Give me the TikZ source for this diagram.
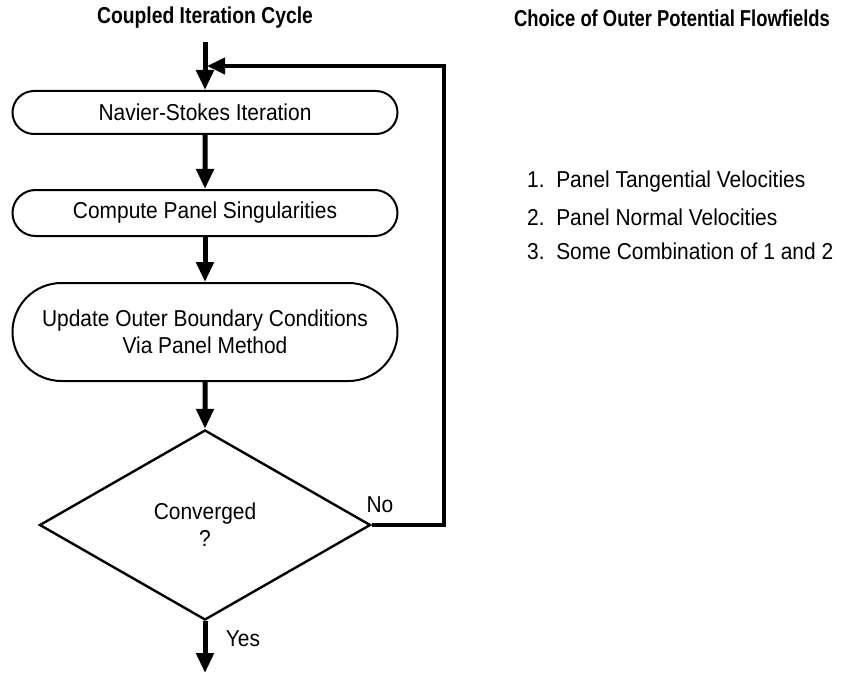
\documentclass[tikz,border=0pt]{standalone}
\usepackage{fontspec}
\setmainfont{Liberation Sans}[FakeStretch=0.91]
\newfontfamily\titlefont[FakeStretch=0.84]{Liberation Sans Bold}
\newfontfamily\titlefontb[FakeStretch=0.80]{Liberation Sans Bold}
\usetikzlibrary{shapes.misc,shapes.geometric,arrows.meta}
\tikzset{
  stadium/.style={draw, rounded rectangle, line width=2pt, minimum width=385pt, inner sep=0pt, align=center, font=\fontsize{23}{27}\selectfont},
  decision/.style={draw, diamond, line width=2.4pt, minimum width=331pt, minimum height=190pt, inner sep=0pt, align=center, font=\fontsize{23}{27}\selectfont},
  flow/.style={line width=5pt, -{Triangle[length=20pt,width=17pt]}},
  loop/.style={line width=4pt, line join=miter, -{Triangle[length=18pt,width=16pt]}},
  heading/.style={font=\titlefont\fontsize{23}{25}\selectfont},
  headingb/.style={font=\titlefontb\fontsize{23}{25}\selectfont},
  txt/.style={font=\fontsize{23}{27}\selectfont, inner sep=0pt},
}
\begin{document}
\begin{tikzpicture}[x=1pt,y=-1pt]
\useasboundingbox (0,0) rectangle (851,674);
\node[heading] (t1) at (205,18) {Coupled Iteration Cycle};
\node[headingb] (t2) at (672,18) {Choice of Outer Potential Flowfields};

\coordinate (start) at (205,42);
\node[stadium, minimum height=43pt] (n1) at (205,112.5) {\raisebox{-4pt}{Navier-Stokes Iteration}};
\node[stadium, minimum height=46pt] (n2) at (205,213) {Compute Panel Singularities};
\node[stadium, minimum height=98pt] (n3) at (205,332) {Update Outer Boundary Conditions\\Via Panel Method};
\node[decision] (d) at (205,525) {Converged\\?};
\coordinate (endyes) at (205,673);
\coordinate (corner) at (444,525);
\coordinate (loopend) at (207,66);

\draw[flow] (start) -- (n1.north);
\draw[flow] (n1) -- (n2);
\draw[flow] (n2) -- (n3);
\draw[flow] (n3) -- (d.north);
\draw[flow] (d.south) -- (endyes);
\draw[loop] (d.east) -- (corner) |- (loopend);

\node[txt] (no) at (380,505) {No};
\node[txt] (yes) at (243,639) {Yes};

\node[txt, anchor=west] (l1) at (527,182) {1.\ \ Panel Tangential Velocities};
\node[txt, anchor=west] (l2) at (527,217) {2.\ \ Panel Normal Velocities};
\node[txt, anchor=west] (l3) at (527,251) {3.\ \ Some Combination of 1 and 2};
\end{tikzpicture}
\end{document}
